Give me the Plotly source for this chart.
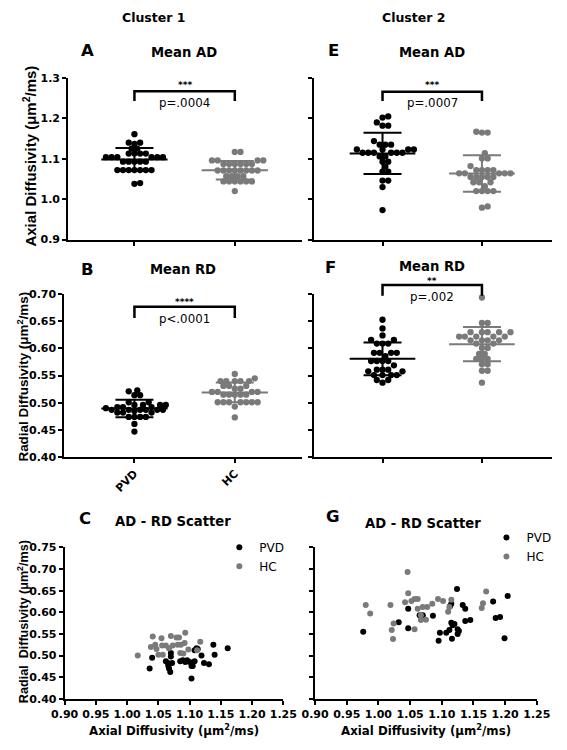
import numpy as np
import plotly.graph_objects as go

W, H = 567, 750
groups = ["PVD", "HC"]
BLACK = "#000000"
GRAY = "#7a7a7a"
FONT = "DejaVu Sans, Liberation Sans, Arial, sans-serif"
FONT_V = "Liberation Sans, Arial, sans-serif"

# ---- Cluster 1 ----
c1_ad_pvd = [1.161, 1.140, 1.137, 1.140, 1.125, 1.125, 1.113, 1.113, 1.113, 1.113, 1.104, 1.104,
             1.104, 1.104, 1.104, 1.104, 1.093, 1.093, 1.093, 1.093, 1.093, 1.072, 1.072, 1.072,
             1.072, 1.072, 1.072, 1.072, 1.038, 1.040]
c1_ad_hc = [1.117, 1.117, 1.096, 1.096, 1.096, 1.096, 1.087, 1.087, 1.087, 1.087, 1.087, 1.087,
            1.071, 1.071, 1.071, 1.071, 1.071, 1.071, 1.071, 1.071, 1.057, 1.057, 1.057, 1.057,
            1.044, 1.044, 1.044, 1.044, 1.044, 1.044, 1.020]
c1_rd_pvd = [0.523, 0.521, 0.514, 0.514, 0.501, 0.501, 0.496, 0.496, 0.496, 0.496, 0.492, 0.492,
             0.492, 0.487, 0.487, 0.487, 0.487, 0.487, 0.487, 0.482, 0.482, 0.482, 0.474, 0.474,
             0.474, 0.474, 0.461, 0.447, 0.485, 0.490]
c1_rd_hc = [0.553, 0.545, 0.540, 0.540, 0.540, 0.540, 0.540, 0.531, 0.531, 0.531, 0.526, 0.526,
            0.520, 0.520, 0.520, 0.520, 0.515, 0.515, 0.515, 0.515, 0.515, 0.501, 0.501, 0.501,
            0.501, 0.501, 0.501, 0.501, 0.493, 0.473]

# ---- Cluster 2 ----
c2_ad_pvd = [1.202, 1.205, 1.190, 1.182, 1.182, 1.144, 1.135, 1.135, 1.135, 1.123, 1.123, 1.123,
             1.123, 1.115, 1.115, 1.115, 1.115, 1.115, 1.115, 1.106, 1.106, 1.093, 1.093, 1.081,
             1.068, 1.068, 1.046, 1.046, 1.030, 0.973]
c2_ad_hc = [1.165, 1.167, 1.165, 1.114, 1.101, 1.101, 1.082, 1.072, 1.072, 1.072, 1.072, 1.064,
            1.064, 1.064, 1.064, 1.064, 1.055, 1.055, 1.055, 1.055, 1.055, 1.042, 1.042, 1.042,
            1.032, 1.020, 1.020, 1.020, 1.020, 0.979, 0.982]
c2_rd_pvd = [0.653, 0.637, 0.624, 0.616, 0.616, 0.609, 0.609, 0.609, 0.592, 0.592, 0.592, 0.592,
             0.586, 0.577, 0.577, 0.577, 0.577, 0.569, 0.561, 0.561, 0.561, 0.558, 0.558, 0.551,
             0.551, 0.551, 0.551, 0.542, 0.542, 0.537]
c2_rd_hc = [0.694, 0.647, 0.647, 0.630, 0.630, 0.630, 0.630, 0.630, 0.622, 0.622, 0.622, 0.622,
            0.622, 0.615, 0.615, 0.615, 0.615, 0.609, 0.609, 0.601, 0.601, 0.590, 0.590, 0.581,
            0.581, 0.581, 0.571, 0.571, 0.559, 0.559, 0.537]

# ---- AD-RD scatter, cluster 1 ----
sc1_pvd_ad = [1.040, 1.036, 1.062, 1.065, 1.070, 1.070, 1.072, 1.066, 1.067, 1.069, 1.085, 1.089,
              1.093, 1.096, 1.100, 1.103, 1.105, 1.108, 1.103, 1.108, 1.111, 1.113, 1.119, 1.123,
              1.131, 1.138, 1.140, 1.161]
sc1_pvd_rd = [0.495, 0.470, 0.487, 0.483, 0.506, 0.498, 0.483, 0.476, 0.470, 0.462, 0.487, 0.489,
              0.485, 0.489, 0.485, 0.476, 0.476, 0.487, 0.447, 0.512, 0.517, 0.515, 0.500, 0.483,
              0.480, 0.525, 0.502, 0.517]
sc1_hc_ad = [1.017, 1.041, 1.055, 1.070, 1.079, 1.083, 1.093, 1.038, 1.045, 1.056, 1.062, 1.073,
             1.081, 1.086, 1.092, 1.047, 1.085, 1.090, 1.050, 1.057, 1.067, 1.098, 1.117, 1.112]
sc1_hc_rd = [0.500, 0.544, 0.540, 0.545, 0.542, 0.542, 0.553, 0.520, 0.525, 0.523, 0.523, 0.523,
             0.525, 0.525, 0.529, 0.515, 0.506, 0.505, 0.502, 0.502, 0.517, 0.514, 0.532, 0.512]

# ---- AD-RD scatter, cluster 2 ----
sc2_pvd_ad = [0.976, 1.032, 1.047, 1.047, 1.065, 1.070, 1.086, 1.124, 1.115, 1.113, 1.115, 1.117,
              1.120, 1.112, 1.107, 1.097, 1.095, 1.116, 1.125, 1.127, 1.125, 1.133, 1.137, 1.137,
              1.145, 1.181, 1.185, 1.192, 1.204, 1.199]
sc2_pvd_rd = [0.555, 0.577, 0.608, 0.563, 0.593, 0.593, 0.592, 0.654, 0.620, 0.614, 0.576, 0.570,
              0.573, 0.559, 0.553, 0.553, 0.534, 0.539, 0.561, 0.557, 0.550, 0.617, 0.608, 0.580,
              0.582, 0.625, 0.587, 0.589, 0.638, 0.540]
sc2_hc_ad = [1.046, 1.047, 0.980, 0.987, 1.019, 1.042, 1.052, 1.057, 1.062, 1.062, 1.070, 1.077,
             1.085, 1.094, 1.102, 1.115, 1.112, 1.110, 1.067, 1.075, 1.067, 1.024, 1.021, 1.057,
             1.023, 1.170, 1.165, 1.163]
sc2_hc_rd = [0.693, 0.644, 0.617, 0.597, 0.617, 0.623, 0.626, 0.631, 0.631, 0.608, 0.612, 0.612,
             0.620, 0.631, 0.626, 0.629, 0.612, 0.601, 0.593, 0.583, 0.582, 0.574, 0.559, 0.561,
             0.538, 0.648, 0.621, 0.610]

# ---------------- layout geometry (pixels) ----------------
def PX(x):
    return x / W

def PY(y):
    return 1 - y / H

panels = {
    "A": dict(xa="xaxis", ya="yaxis", x="x", y="y", xd=(57, 303), yd=(237.7, 73.3), xr=(-0.66, 1.67), yr=(0.9, 1.3)),
    "B": dict(xa="xaxis2", ya="yaxis2", x="x2", y="y2", xd=(53, 303), yd=(459, 293.3), xr=(-0.698, 1.67), yr=(0.40, 0.70)),
    "C": dict(xa="xaxis3", ya="yaxis3", x="x3", y="y3", xd=(53.3, 283.3), yd=(705, 551), xr=(0.90, 1.25), yr=(0.40, 0.75)),
    "E": dict(xa="xaxis4", ya="yaxis4", x="x4", y="y4", xd=(315.7, 566), yd=(237.7, 73.3), xr=(-0.688, 1.705), yr=(0.9, 1.3)),
    "F": dict(xa="xaxis5", ya="yaxis5", x="x5", y="y5", xd=(315.7, 566), yd=(459, 293.3), xr=(-0.688, 1.705), yr=(0.40, 0.70)),
    "G": dict(xa="xaxis6", ya="yaxis6", x="x6", y="y6", xd=(316.7, 550), yd=(705, 551), xr=(0.90, 1.25), yr=(0.40, 0.75)),
}

def to_px(p, xv, yv):
    (x0, x1), (y0, y1) = p["xd"], p["yd"]
    (r0, r1), (s0, s1) = p["xr"], p["yr"]
    return x0 + (xv - r0) / (r1 - r0) * (x1 - x0), y0 + (yv - s0) / (s1 - s0) * (y1 - y0)

def beeswarm(values, p, d=6.0):
    xpu = (p["xd"][1] - p["xd"][0]) / (p["xr"][1] - p["xr"][0])
    ypu = (p["yd"][0] - p["yd"][1]) / (p["yr"][1] - p["yr"][0])
    vals = np.asarray(values, float)
    order = np.argsort(vals)
    placed = []
    offs = np.zeros(len(vals))
    cands = [0.0]
    for k in range(1, 80):
        cands += [k * d / 2, -k * d / 2]
    for i in order:
        yy = vals[i] * ypu
        for c in cands:
            if all((c - px_) ** 2 + (yy - py_) ** 2 >= (0.92 * d) ** 2 for px_, py_ in placed):
                placed.append((c, yy))
                offs[i] = c
                break
    return offs / xpu

fig = go.Figure()

def dot_panel(key, pvd, hc):
    p = panels[key]
    for gi, (vals, col) in enumerate([(pvd, BLACK), (hc, GRAY)]):
        xs = gi + beeswarm(vals, p)
        fig.add_trace(go.Scatter(x=xs, y=vals, mode="markers", xaxis=p["x"], yaxis=p["y"],
                                 marker=dict(size=6.3, color=col), showlegend=False, hoverinfo="skip"))
    for gi, (vals, col) in enumerate([(pvd, BLACK), (hc, GRAY)]):
        m = float(np.mean(vals))
        sd = float(np.std(vals, ddof=1))
        fig.add_trace(go.Scatter(x=[gi - 0.33, gi + 0.33], y=[m, m], mode="lines", xaxis=p["x"], yaxis=p["y"],
                                 line=dict(color=col, width=2), showlegend=False, hoverinfo="skip"))
        fig.add_trace(go.Scatter(x=[gi], y=[m], mode="markers", xaxis=p["x"], yaxis=p["y"],
                                 marker=dict(size=1, color="rgba(0,0,0,0)"),
                                 error_y=dict(type="data", array=[sd], color=col, thickness=2, width=19),
                                 showlegend=False, hoverinfo="skip"))

dot_panel("A", c1_ad_pvd, c1_ad_hc)
dot_panel("B", c1_rd_pvd, c1_rd_hc)
dot_panel("E", c2_ad_pvd, c2_ad_hc)
dot_panel("F", c2_rd_pvd, c2_rd_hc)

def scatter_panel(key, pad, prd, had, hrd, legend):
    p = panels[key]
    fig.add_trace(go.Scatter(x=pad, y=prd, mode="markers", name="PVD", xaxis=p["x"], yaxis=p["y"],
                             marker=dict(size=6, color=BLACK), legend=legend))
    fig.add_trace(go.Scatter(x=had, y=hrd, mode="markers", name="HC", xaxis=p["x"], yaxis=p["y"],
                             marker=dict(size=6, color=GRAY), legend=legend))

scatter_panel("C", sc1_pvd_ad, sc1_pvd_rd, sc1_hc_ad, sc1_hc_rd, "legend")
scatter_panel("G", sc2_pvd_ad, sc2_pvd_rd, sc2_hc_ad, sc2_hc_rd, "legend2")

tickfont = dict(family=FONT, size=11, color="black", weight="bold")
base = dict(showline=True, linecolor="black", linewidth=2, ticks="outside", ticklen=4, tickwidth=2,
            tickcolor="black", showgrid=False, zeroline=False, tickfont=tickfont, fixedrange=True)

layout_axes = {}
for key, p in panels.items():
    xa = dict(base, domain=[PX(p["xd"][0]), PX(p["xd"][1])], range=list(p["xr"]), anchor=p["y"])
    ya = dict(base, domain=[PY(p["yd"][0]), PY(p["yd"][1])], range=list(p["yr"]), anchor=p["x"],
              ticklabelstandoff=0)
    if key in "ABEF":
        xa.update(tickmode="array", tickvals=[0, 1], ticktext=groups, showticklabels=(key == "B"),
                  tickangle=-45)
    else:
        xa.update(tickmode="array", tickvals=[round(0.90 + 0.05 * i, 2) for i in range(8)], tickformat=".2f")
    if key in "AE":
        ya.update(tickmode="array", tickvals=[0.9, 1.0, 1.1, 1.2, 1.3], tickformat=".1f")
    elif key in "BF":
        ya.update(tickmode="array", tickvals=[round(0.40 + 0.05 * i, 2) for i in range(7)], tickformat=".2f")
    else:
        ya.update(tickmode="array", tickvals=[round(0.40 + 0.05 * i, 2) for i in range(8)], tickformat=".2f")
    if key in "EFG":
        ya.update(showticklabels=False)
    layout_axes[p["xa"]] = xa
    layout_axes[p["ya"]] = ya

fig.update_layout(**layout_axes)

ann = []
def text(x, y, s, size, bold=True, xanchor="center", angle=0, family=FONT):
    ann.append(dict(x=PX(x), y=PY(y), xref="paper", yref="paper", text=s, showarrow=False,
                    xanchor=xanchor, yanchor="middle", textangle=angle,
                    font=dict(family=family, size=size, color="black", weight="bold" if bold else "normal")))

text(147, 12, "Cluster 1", 12.5)
text(420, 12, "Cluster 2", 12.5)
text(77, 45, "A", 16.5)
text(179, 47, "Mean AD", 13.2)
text(336, 45, "E", 16.5)
text(440, 47, "Mean AD", 13.2)
text(77, 268, "B", 16.5)
text(178, 268, "Mean RD", 13.2)
text(333, 266, "F", 16.5)
text(440, 265, "Mean RD", 13.2)
text(75, 522, "C", 16.5)
text(167, 525, "AD - RD Scatter", 13.2)
text(336, 520, "G", 16.5)
text(430, 527, "AD - RD Scatter", 13.2)
text(16, 153, "Axial Diffusivity (\u03bcm<sup>2</sup>/ms)", 15, angle=-90, family=FONT_V)
text(9.5, 377, "Radial Diffusivity (\u03bcm<sup>2</sup>/ms)", 13.4, angle=-90, family=FONT_V)
text(9.5, 627, "Radial  Diffusivity (\u03bcm<sup>2</sup>/ms)", 12.6, angle=-90, family=FONT_V)
text(168, 737, "Axial Diffusivity (\u03bcm<sup>2</sup>/ms)", 11.8)
text(433, 737, "Axial Diffusivity (\u03bcm<sup>2</sup>/ms)", 11.8)

# significance brackets: (panel, y_top, y_leg, stars, y_stars, ptext, y_p)
brackets = [
    ("A", 1.267, 1.243, "***", 1.286, "p=.0004", 1.237),
    ("E", 1.266, 1.243, "***", 1.286, "p=.0007", 1.237),
    ("B", 0.677, 0.656, "****", 0.688, "p<.0001", 0.655),
    ("F", 0.717, 0.697, "**", 0.727, "p=.002", 0.695),
]
shapes = []
for key, yt, yl, stars, ys, ptxt, yp in brackets:
    p = panels[key]
    x0, ytp = to_px(p, 0, yt)
    x1, _ = to_px(p, 1, yt)
    _, ylp = to_px(p, 0, yl)
    shapes.append(dict(type="path", xref="paper", yref="paper",
                       path=f"M {PX(x0)},{PY(ylp)} L {PX(x0)},{PY(ytp)} L {PX(x1)},{PY(ytp)} L {PX(x1)},{PY(ylp)}",
                       line=dict(color="black", width=2.5)))
    _, ysp = to_px(p, 0, ys)
    _, ypp = to_px(p, 0, yp)
    text((x0 + x1) / 2, ysp + 1, stars, 9)
    text((x0 + x1) / 2, ypp, ptxt, 11.8, bold=False)

legfont = dict(family=FONT, size=12, color="black")
fig.update_layout(
    width=W, height=H, margin=dict(l=0, r=0, t=0, b=0),
    paper_bgcolor="white", plot_bgcolor="white",
    annotations=ann, shapes=shapes,
    legend=dict(x=PX(216), y=PY(536), xanchor="left", yanchor="top", bgcolor="rgba(0,0,0,0)",
                font=legfont, itemwidth=30, tracegroupgap=0),
    legend2=dict(x=PX(497), y=PY(526), xanchor="left", yanchor="top", bgcolor="rgba(0,0,0,0)",
                 font=legfont, itemwidth=30, tracegroupgap=0),
)

fig.write_html("out.html", config={"displayModeBar": False},
               post_script="document.body.style.margin='0';document.body.style.overflow='hidden';")
